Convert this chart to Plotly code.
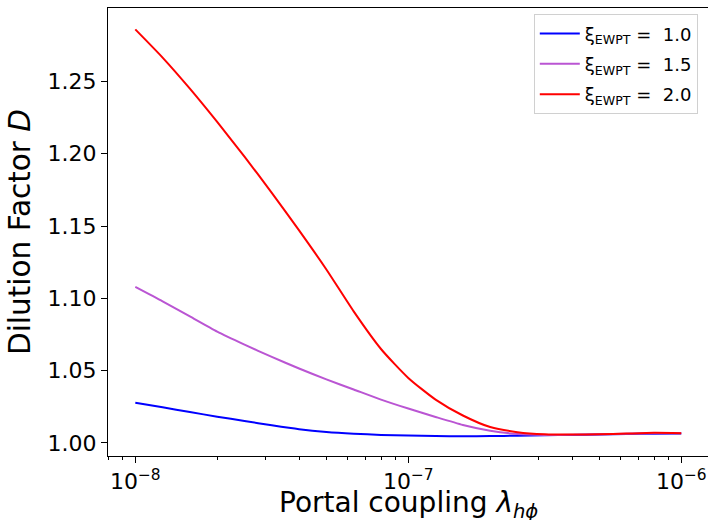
import plotly.graph_objects as go

# log10 of the portal coupling (x) and dilution factor D
logx = [-8.0, -7.9, -7.8, -7.7, -7.6, -7.5, -7.4, -7.3, -7.2, -7.1, -7.0,
        -6.9, -6.8, -6.7, -6.6, -6.5, -6.4, -6.3, -6.2, -6.1, -6.0]

blue_D = [1.0278, 1.0247, 1.0214, 1.0182, 1.0152, 1.0122, 1.0095, 1.0076, 1.0064, 1.0056, 1.0051,
          1.0048, 1.0047, 1.0048, 1.0050, 1.0053, 1.0056, 1.0059, 1.0062, 1.0064, 1.0065]

purple_D = [1.1080, 1.0980, 1.0875, 1.0770, 1.0680, 1.0595, 1.0515, 1.0440, 1.0370, 1.0300, 1.0238,
            1.0180, 1.0125, 1.0085, 1.0062, 1.0056, 1.0057, 1.0060, 1.0064, 1.0068, 1.0067]

red_D = [1.2860, 1.2665, 1.2450, 1.2220, 1.1980, 1.1730, 1.1470, 1.1200, 1.0910, 1.0650, 1.0450,
         1.0300, 1.0190, 1.0110, 1.0075, 1.0060, 1.0058, 1.0060, 1.0065, 1.0070, 1.0068]

series = [
    ("ξ<sub>EWPT</sub> =  1.0", blue_D, "#0000ff"),
    ("ξ<sub>EWPT</sub> =  1.5", purple_D, "#ba55d3"),
    ("ξ<sub>EWPT</sub> =  2.0", red_D, "#ff0000"),
]

y_ticks = [1.00, 1.05, 1.10, 1.15, 1.20, 1.25]
y_ticklabels = ["1.00", "1.05", "1.10", "1.15", "1.20", "1.25"]
x_ticks = [1e-8, 1e-7, 1e-6]
x_ticklabels = ["10<sup>−8</sup>", "10<sup>−7</sup>", "10<sup>−6</sup>"]
x_title = "Portal coupling <i>λ<sub>hϕ</sub></i>"
y_title = "Dilution Factor <i>D</i>"

minor_vals = []
for e in [-9, -8, -7]:
    for m in range(2, 10):
        minor_vals.append(m * 10.0 ** e)

fig = go.Figure()
for i, (name, d, col) in enumerate(series):
    fig.add_trace(go.Scatter(
        x=[10 ** v for v in logx], y=d, mode="lines", name=name,
        legendgroup="g%d" % i,
        line=dict(color=col, width=2, shape="spline", smoothing=0.6),
    ))

font = "DejaVu Sans"
fig.update_layout(
    width=708, height=520,
    margin=dict(l=108, r=0, t=8, b=64, autoexpand=False),
    paper_bgcolor="white", plot_bgcolor="white",
    font=dict(family=font, color="black"),
    showlegend=True,
    legend=dict(
        x=0.983, y=0.986, xanchor="right", yanchor="top",
        bgcolor="rgba(255,255,255,0.8)", bordercolor="#d0d0d0", borderwidth=1,
        font=dict(size=18, family=font), tracegroupgap=4, itemwidth=40,
    ),
    xaxis=dict(
        type="log", range=[-8.1, -5.902],
        tickvals=x_ticks, ticktext=x_ticklabels,
        ticks="outside", ticklen=6, tickwidth=1, tickcolor="black",
        showline=True, linecolor="black", linewidth=1, mirror=True,
        showgrid=False, zeroline=False,
        tickfont=dict(size=22, family=font),
        minor=dict(tickvals=minor_vals, ticks="outside", ticklen=3, tickcolor="black", showgrid=False),
        automargin=False,
    ),
    yaxis=dict(
        range=[0.991, 1.3008],
        tickvals=y_ticks, ticktext=y_ticklabels,
        ticks="outside", ticklen=6, tickwidth=1, tickcolor="black",
        showline=True, linecolor="black", linewidth=1, mirror=False,
        showgrid=False, zeroline=False,
        tickfont=dict(size=22, family=font),
        title=dict(text=y_title, font=dict(size=29.5, family=font), standoff=8),
        automargin=False,
    ),
    annotations=[dict(
        text=x_title, xref="paper", yref="paper", x=0.5, y=-0.108,
        xanchor="center", yanchor="middle", showarrow=False,
        font=dict(size=28, family=font, color="black"),
    )],
)

fig.write_html(
    "out.html",
    config={"displayModeBar": False},
    post_script="document.body.style.margin='0';document.body.style.overflow='hidden';",
)
